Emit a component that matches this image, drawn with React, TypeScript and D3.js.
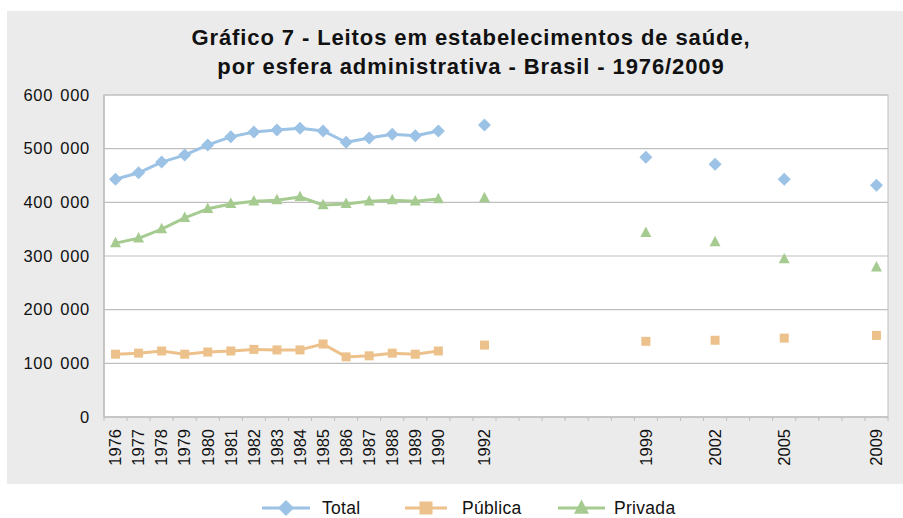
import React from "react";
import * as d3 from "d3";

const years: number[] = [1976, 1977, 1978, 1979, 1980, 1981, 1982, 1983, 1984, 1985, 1986, 1987, 1988, 1989, 1990, 1992, 1999, 2002, 2005, 2009];
const totalValues: number[] = [443000, 455000, 475000, 488000, 507000, 522000, 531000, 535000, 538000, 533000, 512000, 520000, 527000, 524000, 533000, 544000, 484000, 471000, 443000, 432000];
const publicaValues: number[] = [117000, 119000, 123000, 117000, 121000, 123000, 126000, 125000, 125000, 136000, 112000, 114000, 119000, 117000, 123000, 134000, 141000, 143000, 147000, 152000];
const privadaValues: number[] = [324000, 333000, 350000, 371000, 388000, 397000, 402000, 404000, 410000, 395000, 397000, 402000, 404000, 402000, 406000, 408000, 343000, 326000, 294000, 279000];
const yTicks: number[] = [0, 100000, 200000, 300000, 400000, 500000, 600000];
const titleLines: string[] = ["Gráfico 7 - Leitos em estabelecimentos de saúde,", "por esfera administrativa - Brasil - 1976/2009"];
const seriesNames: string[] = ["Total", "Pública", "Privada"];

const COLORS = { Total: "#9cc2e5", "Pública": "#edc18b", Privada: "#a5cb90" } as Record<string, string>;
const FONT = "'Liberation Sans', Arial, Helvetica, sans-serif";

type Shape = "diamond" | "square" | "triangle";

function markerPath(shape: Shape, cx: number, cy: number, s: number): string {
  if (shape === "diamond") {
    return `M${cx},${cy - s} L${cx + s},${cy} L${cx},${cy + s} L${cx - s},${cy} Z`;
  }
  if (shape === "square") {
    return `M${cx - s},${cy - s} H${cx + s} V${cy + s} H${cx - s} Z`;
  }
  return `M${cx},${cy - s * 1.15} L${cx + s},${cy + s * 0.75} L${cx - s},${cy + s * 0.75} Z`;
}

export default function App() {
  const W = 903;
  const H = 518;
  const plot = { left: 104, top: 95, right: 888, bottom: 417 };

  const allYears = d3.range(1976, 2010);
  const x = d3.scaleLinear().domain([1975.5, 2009.5]).range([plot.left, plot.right]);
  const y = d3.scaleLinear().domain([0, 600000]).range([plot.bottom, plot.top]);

  const series = [
    { name: seriesNames[0], values: totalValues, shape: "diamond" as Shape, size: 6.5 },
    { name: seriesNames[1], values: publicaValues, shape: "square" as Shape, size: 4.5 },
    { name: seriesNames[2], values: privadaValues, shape: "triangle" as Shape, size: 5.5 },
  ];

  const fmt = (v: number) => (v === 0 ? "0" : d3.format(",")(v).replace(/,/g, " "));

  const legendItems = [
    { name: seriesNames[0], shape: "diamond" as Shape, x1: 262, x2: 310, text: 322, size: 8 },
    { name: seriesNames[1], shape: "square" as Shape, x1: 405, x2: 447, text: 462, size: 6.5 },
    { name: seriesNames[2], shape: "triangle" as Shape, x1: 558, x2: 605, text: 614, size: 7.5 },
  ];

  return (
    <svg width={W} height={H} style={{ position: "absolute", left: 0, top: 0 }} fontFamily={FONT}>
      <rect x={0} y={0} width={W} height={H} fill="#ffffff" />
      <rect x={7} y={11} width={W - 7} height={473} fill="#ebebeb" />
      <g>
        {titleLines.map((t, i) => (
          <text key={i} x={471} y={45 + i * 29} textAnchor="middle" fontSize={22} fontWeight="bold" letterSpacing={0.9} fill="#111">
            {t}
          </text>
        ))}
      </g>
      <rect x={plot.left} y={plot.top} width={plot.right - plot.left} height={plot.bottom - plot.top} fill="#ffffff" stroke="#bfbfbf" strokeWidth={1} />
      {yTicks.map((t) => (
        <g key={t}>
          {t > 0 && (
            <line x1={plot.left} x2={plot.right} y1={y(t)} y2={y(t)} stroke="#bfbfbf" strokeWidth={1.2} />
          )}
          <text x={90} y={y(t)} dy="0.35em" textAnchor="end" fontSize={16.5} letterSpacing={0.7} wordSpacing={2} fill="#111">
            {fmt(t)}
          </text>
        </g>
      ))}
      <line x1={plot.left} x2={plot.right} y1={plot.bottom} y2={plot.bottom} stroke="#bfbfbf" strokeWidth={1.5} />
      <line x1={plot.left} x2={plot.left} y1={plot.top} y2={plot.bottom} stroke="#bfbfbf" strokeWidth={1.5} />
      {d3.range(1975.5, 2010, 1).map((b) => (
        <line key={b} x1={x(b)} x2={x(b)} y1={plot.bottom} y2={plot.bottom + 4} stroke="#bfbfbf" strokeWidth={1} />
      ))}
      {years.map((yr) => (
        <text
          key={yr}
          transform={`translate(${x(yr)},${plot.bottom + 12}) rotate(-90)`}
          textAnchor="end"
          dy="0.35em"
          fontSize={16.5}
          fill="#111"
        >
          {yr}
        </text>
      ))}
      {series.map((s) => {
        const lookup = new Map<number, number>();
        years.forEach((yr, i) => lookup.set(yr, s.values[i]));
        const line = d3
          .line<number>()
          .defined((yr) => lookup.has(yr))
          .x((yr) => x(yr))
          .y((yr) => y(lookup.get(yr) as number));
        return (
          <g key={s.name}>
            <path d={line(allYears) || ""} fill="none" stroke={COLORS[s.name]} strokeWidth={3} strokeLinejoin="round" />
            {years.map((yr, i) => (
              <path key={yr} d={markerPath(s.shape, x(yr), y(s.values[i]), s.size)} fill={COLORS[s.name]} />
            ))}
          </g>
        );
      })}
      {legendItems.map((l) => (
        <g key={l.name}>
          <line x1={l.x1} x2={l.x2} y1={508} y2={508} stroke={COLORS[l.name]} strokeWidth={3} />
          <path d={markerPath(l.shape, (l.x1 + l.x2) / 2, 508, l.size)} fill={COLORS[l.name]} />
          <text x={l.text} y={508} dy="0.35em" fontSize={17.5} letterSpacing={0.3} fill="#111">
            {l.name}
          </text>
        </g>
      ))}
    </svg>
  );
}
